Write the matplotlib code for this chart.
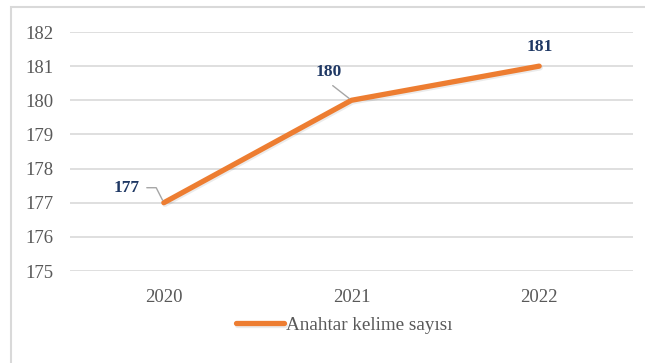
import matplotlib.pyplot as plt
import matplotlib.patheffects as pe
from matplotlib.patches import Rectangle

years = ['2020', '2021', '2022']
values = [177, 180, 181]
series_name = 'Anahtar kelime sayısı'

plt.rcParams['font.family'] = ['Liberation Serif', 'DejaVu Serif']

fig = plt.figure(figsize=(6.45, 3.63), dpi=100)
ax = fig.add_axes([70/645, 1-271/363, (633-70)/645, (271-32)/363])

# outer chart border (right/bottom fall outside the crop)
fig.patches.append(Rectangle((11/645, -0.1), 1.2, 1-7/363+0.1, transform=fig.transFigure,
                             fill=False, edgecolor='#D9D9D9', lw=1.5))

x = range(len(years))
ax.plot(x, values, color='#ED7D31', lw=3.8, solid_capstyle='round', label=series_name,
        path_effects=[pe.SimpleLineShadow(offset=(0.8, -1.2), alpha=0.08), pe.Normal()])

ax.set_xlim(-0.5, 2.5)
ax.set_ylim(175, 182)
ax.set_yticks(range(175, 183))
ax.set_xticks(list(x))
ax.set_xticklabels(years)
ax.grid(axis='y', color='#D9D9D9', lw=1.2)
ax.set_axisbelow(True)
for s in ax.spines.values():
    s.set_visible(False)
ax.tick_params(length=0, labelsize=13.5, labelcolor='#595959')
ax.tick_params(axis='y', pad=12)
ax.tick_params(axis='x', pad=13)

lab = dict(textcoords='offset pixels', ha='center', va='center', fontsize=12.5,
           fontweight='bold', color='#1F3864')
ax.annotate(str(values[0]), (0, values[0]), xytext=(-37, 15),
            arrowprops=dict(arrowstyle='-', color='#A6A6A6', lw=1, relpos=(1, 0.5),
                            shrinkA=3, shrinkB=2,
                            connectionstyle='angle,angleA=0,angleB=117,rad=0'), **lab)
ax.annotate(str(values[1]), (1, values[1]), xytext=(-23, 28),
            arrowprops=dict(arrowstyle='-', color='#A6A6A6', lw=1, relpos=(0.4, 0),
                            shrinkA=3, shrinkB=2), **lab)
ax.annotate(str(values[2]), (2, values[2]), xytext=(1, 19), **lab)

ax.legend(loc='center', bbox_to_anchor=(344/645, 1-325/363), bbox_transform=fig.transFigure,
          frameon=False, fontsize=13.8, handlelength=2.5, handletextpad=0.1,
          labelcolor='#595959')

fig.savefig('out.png', dpi=100)
